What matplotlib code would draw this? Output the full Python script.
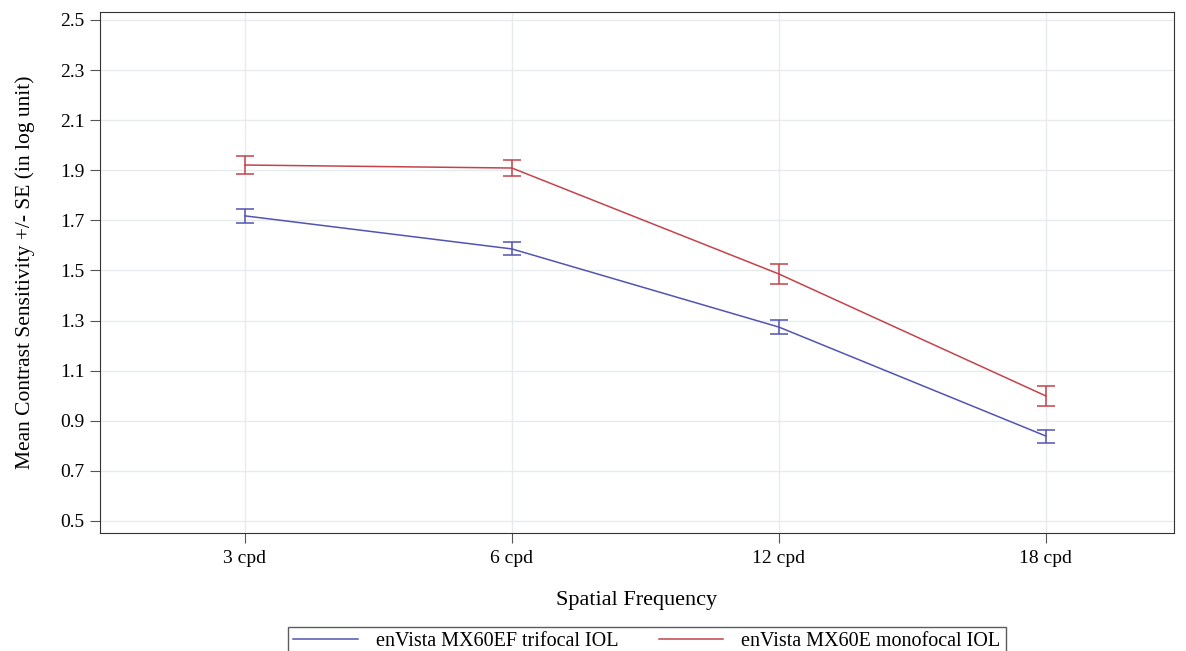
import matplotlib.pyplot as plt

plt.rcParams['font.family'] = ['Liberation Serif', 'DejaVu Serif']

freqs = ['3 cpd', '6 cpd', '12 cpd', '18 cpd']
trifocal_mean = [1.718, 1.586, 1.274, 0.839]
trifocal_se = [0.028, 0.026, 0.027, 0.026]
monofocal_mean = [1.921, 1.909, 1.486, 0.999]
monofocal_se = [0.036, 0.032, 0.040, 0.040]
yticks = [0.5, 0.7, 0.9, 1.1, 1.3, 1.5, 1.7, 1.9, 2.1, 2.3, 2.5]

blue = '#5353B3'
red = '#C4434B'

fig = plt.figure(figsize=(11.86, 6.51), dpi=100)
ax = fig.add_axes([0.0843, 0.1813, 0.9056, 0.8003])

x = list(range(len(freqs)))
ax.errorbar(x, trifocal_mean, yerr=trifocal_se, color=blue, lw=1.1,
            capsize=6.5, capthick=1.1, elinewidth=1.1,
            label='enVista MX60EF trifocal IOL')
ax.errorbar(x, monofocal_mean, yerr=monofocal_se, color=red, lw=1.1,
            capsize=6.5, capthick=1.1, elinewidth=1.1,
            label='enVista MX60E monofocal IOL')

ax.set_xlim(-0.543, 3.48)
ax.set_ylim(0.452, 2.532)
ax.set_xticks(x)
ax.set_xticklabels(freqs)
ax.set_yticks(yticks)
ax.set_yticklabels([f'{v:.1f}' for v in yticks])
ax.grid(True, color='#e8ebee', lw=1)
ax.set_axisbelow(True)
ax.tick_params(labelsize=14, length=7, color='#555555')
ax.tick_params(axis='x', pad=5.5)
ax.tick_params(axis='y', pad=4)
for s in ax.spines.values():
    s.set_color('#333333')

ax.set_xlabel('Spatial Frequency', fontsize=16, labelpad=17)
ax.set_ylabel('Mean Contrast Sensitivity +/- SE (in log unit)', fontsize=15.5, labelpad=18)

labels = ['enVista MX60EF trifocal IOL', 'enVista MX60E monofocal IOL']
handles = [plt.Line2D([], [], color=blue, lw=1.1), plt.Line2D([], [], color=red, lw=1.1)]
fig.legend(handles, labels, loc='upper center', bbox_to_anchor=(0.5455, 0.0375),
           ncol=2, fontsize=14.5, frameon=True, fancybox=False, edgecolor='#333333',
           handlelength=3.2, handletextpad=0.9, columnspacing=2.0, borderpad=0.25,
           borderaxespad=0)

fig.savefig('out.png', dpi=100)
